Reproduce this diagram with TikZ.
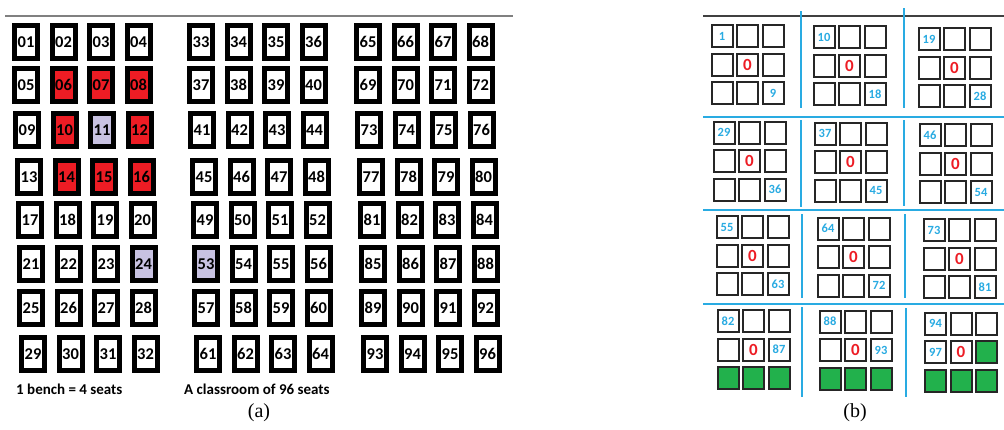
\documentclass[tikz,border=0pt]{standalone}
\usepackage{fontspec}
\setmainfont{Liberation Serif}
\newfontfamily\carl{Carlito}
\definecolor{sred}{HTML}{ED1C24}
\definecolor{slav}{HTML}{C8C2E2}
\definecolor{sblue}{HTML}{29ABE2}
\definecolor{sgreen}{HTML}{22B14C}
\begin{document}
\begin{tikzpicture}[x=1pt,y=-1pt,
  seat/.style={draw=black, line width=5pt, fill=white, minimum width=23pt, minimum height=33pt, inner sep=0pt, font=\carl\bfseries\fontsize{16.5}{16.5}\selectfont},
  s6/.style={fill=sred}, s7/.style={fill=sred}, s8/.style={fill=sred},
  s10/.style={fill=sred}, s12/.style={fill=sred}, s14/.style={fill=sred},
  s15/.style={fill=sred}, s16/.style={fill=sred},
  s11/.style={fill=slav}, s24/.style={fill=slav}, s53/.style={fill=slav},
  cell/.style={draw=black!85, line width=2pt, fill=white, minimum width=21pt, minimum height=22pt, inner sep=0pt},
  gcell/.style={cell, fill=sgreen},
  num/.style={text=sblue, inner sep=0pt, font=\carl\bfseries\fontsize{12.5}{12.5}\selectfont},
  zero/.style={text=sred, inner sep=0pt, font=\carl\bfseries\fontsize{17}{17}\selectfont},
  bline/.style={draw=sblue, line width=2pt},
  note/.style={anchor=west, inner sep=0pt, font=\carl\bfseries\fontsize{15}{15}\selectfont},
  captext/.style={inner sep=0pt, font=\fontsize{20}{20}\selectfont}
]
\useasboundingbox (0,0) rectangle (1004,429);

% ---------- (a) ----------
\draw[gray, line width=1.5pt] (5,16) -- (513,16);
\foreach \b/\bx in {0/26,1/201,2/368}
  \foreach \r/\off/\yy in {0/0/42,1/0/85,2/1/130,3/3/177,4/4/220,5/5/264,6/5/308,7/7/354}
    \foreach \c in {0,1,2,3}{
      \pgfmathtruncatemacro\n{\b*32+\r*4+\c+1}
      \pgfmathsetmacro\xx{\bx+37.5*\c+\off}
      \node[seat, s\n/.try] (s\n) at (\xx,\yy) {\ifnum\n<10 0\fi\n};
    }
\node[note] (t1) at (16,389) {1 bench = 4 seats};
\node[note] (t2) at (184,389) {A classroom of 96 seats};
\node[captext] (ca) at (259,413) {(a)};

% ---------- (b) ----------
\draw[black!75, line width=2pt] (703,16) -- (1004,16);
\foreach \gx/\gy/\ta/\tb/\ty [count=\g] in {
  722/36/1/9/0, 824/37/10/18/0, 929/39/19/28/0,
  724/132.5/29/36/0, 825/133.5/37/45/0, 930/135/46/54/0,
  727/227/55/63/0, 828/228.5/64/72/0, 934/230/73/81/0,
  728/321/82/87/1, 830/321.5/88/93/1, 935.5/323.5/94/97/2}{
  \foreach \i in {0,1,2}
    \foreach \j in {0,1,2}{
      \pgfmathtruncatemacro\isg{(\ty>0 && \i==2) || (\ty==2 && \i==1 && \j==2)}
      \ifnum\isg=1 \def\cs{gcell}\else\def\cs{cell}\fi
      \node[\cs] (c\g-\i\j) at ({\gx+25.5*\j},{\gy+28.5*\i}) {};
    }
  \node[zero] (z\g) at (c\g-11) {0};
  \node[num] (a\g) at (c\g-00) {\ta};
  \ifcase\ty\relax
    \node[num] (b\g) at (c\g-22) {\tb};
  \or
    \node[num] (b\g) at (c\g-12) {\tb};
  \or
    \node[num] (b\g) at (c\g-10) {\tb};
  \fi
}
\draw[bline] (703,117) -- (1004,117);
\draw[bline] (703,210) -- (1004,210);
\draw[bline] (703,304) -- (1004,304);
\draw[bline] (801,11) -- (801,108);
\draw[bline] (904,8) -- (904,108);
\draw[bline] (801,120) -- (801,207);
\draw[bline] (904,120) -- (904,206);
\draw[bline] (802,214) -- (802,298);
\draw[bline] (905,214) -- (905,298);
\draw[bline] (802,307) -- (802,397);
\draw[bline] (906,308) -- (906,397);
\node[captext] (cb) at (855,413) {(b)};
\end{tikzpicture}
\end{document}
